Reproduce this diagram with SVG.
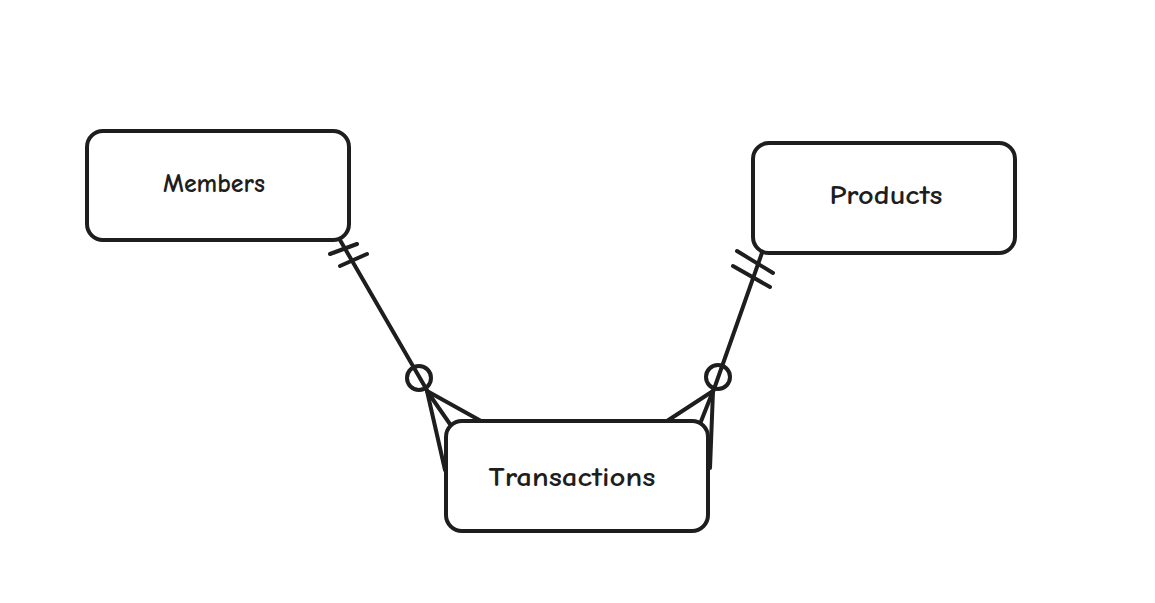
<svg xmlns="http://www.w3.org/2000/svg" width="1155" height="603" viewBox="0 0 1155 603">
<style>
.box{fill:#fff;stroke:#1e1e1e;stroke-width:4}
.ln{fill:none;stroke:#1e1e1e;stroke-width:4;stroke-linecap:round}
.lbl{font-family:"Comic Neue","Liberation Sans",sans-serif;font-size:26px;font-weight:700;fill:#1e1e1e;text-anchor:middle;dominant-baseline:central}
</style>
<rect width="1155" height="603" fill="#fff"/>
<g id="connectors">
<g id="members-transactions">
<line class="ln" x1="340" y1="240" x2="428" y2="392"/>
<line class="ln" x1="330" y1="254" x2="357" y2="244"/>
<line class="ln" x1="340" y1="266" x2="367" y2="254"/>
<circle class="ln" cx="419" cy="378" r="12"/>
<line class="ln" x1="427" y1="391" x2="481" y2="421"/>
<line class="ln" x1="427" y1="391" x2="452" y2="427"/>
<line class="ln" x1="427" y1="391" x2="445" y2="470"/>
</g>
<g id="products-transactions">
<line class="ln" x1="763" y1="250" x2="713" y2="392"/>
<line class="ln" x1="737" y1="251" x2="773" y2="273"/>
<line class="ln" x1="733" y1="266" x2="770" y2="287"/>
<circle class="ln" cx="718" cy="377" r="12"/>
<line class="ln" x1="713" y1="391" x2="667" y2="421"/>
<line class="ln" x1="713" y1="391" x2="700" y2="424"/>
<line class="ln" x1="713" y1="391" x2="710" y2="468"/>
</g>
</g>
<g id="members">
<rect class="box" x="87" y="131" width="262" height="109" rx="16"/>
<text class="lbl" x="214" y="184" textLength="102" lengthAdjust="spacingAndGlyphs">Members</text>
</g>
<g id="products">
<rect class="box" x="753" y="143" width="262" height="110" rx="16"/>
<text class="lbl" x="886" y="196" textLength="113" lengthAdjust="spacingAndGlyphs">Products</text>
</g>
<g id="transactions">
<rect class="box" x="446" y="421" width="262" height="110" rx="16"/>
<text class="lbl" x="572" y="478" textLength="167" lengthAdjust="spacingAndGlyphs">Transactions</text>
</g>
</svg>
